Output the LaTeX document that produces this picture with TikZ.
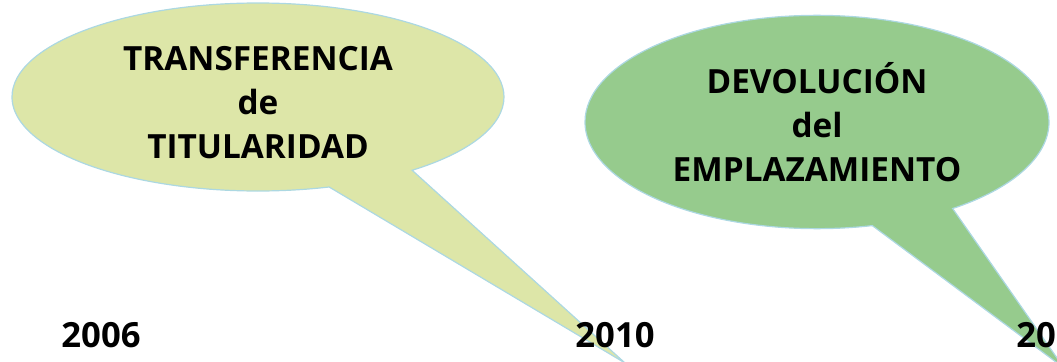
\documentclass[tikz,border=0pt]{standalone}
\usepackage{fontspec}
\setmainfont{Open Sans}
\usepackage{tikz}
\usetikzlibrary{shapes.callouts}
\definecolor{limegreen}{RGB}{221,230,168}
\definecolor{leafgreen}{RGB}{150,203,141}
\definecolor{rimblue}{RGB}{172,216,226}
\tikzset{
  bubble/.style={ellipse callout,draw=rimblue,line width=0.9pt,callout pointer arc=22,
                 inner sep=3pt,align=center,font=\fontsize{25}{33}\selectfont\bfseries},
  year/.style={font=\fontsize{26}{30}\selectfont\bfseries,inner sep=0pt}
}
\begin{document}
\begin{tikzpicture}[x=0.75pt,y=-0.75pt]
  \useasboundingbox (0,0) rectangle (1057,361);
  \clip (0,0) rectangle (1057,361);
  \coordinate (tipA) at (625,363);
  \coordinate (tipB) at (1064,368);
  \node[bubble,fill=limegreen,minimum width=369pt,minimum height=141pt,
        callout absolute pointer={(tipA)}] (transfer) at (258,97)
        {\rule{0pt}{27pt}TRANSFERENCIA\\de\\TITULARIDAD};
  \node[bubble,fill=leafgreen,minimum width=348pt,minimum height=160pt,
        callout absolute pointer={(tipB)}] (devolucion) at (817,122)
        {DEVOLUCIÓN\\del\\EMPLAZAMIENTO};
  \node[year] (y2006) at (101,335) {2006};
  \node[year] (y2010) at (615,335) {2010};
  \node[year,anchor=west] (y20) at (1016,335) {20};
\end{tikzpicture}
\end{document}
